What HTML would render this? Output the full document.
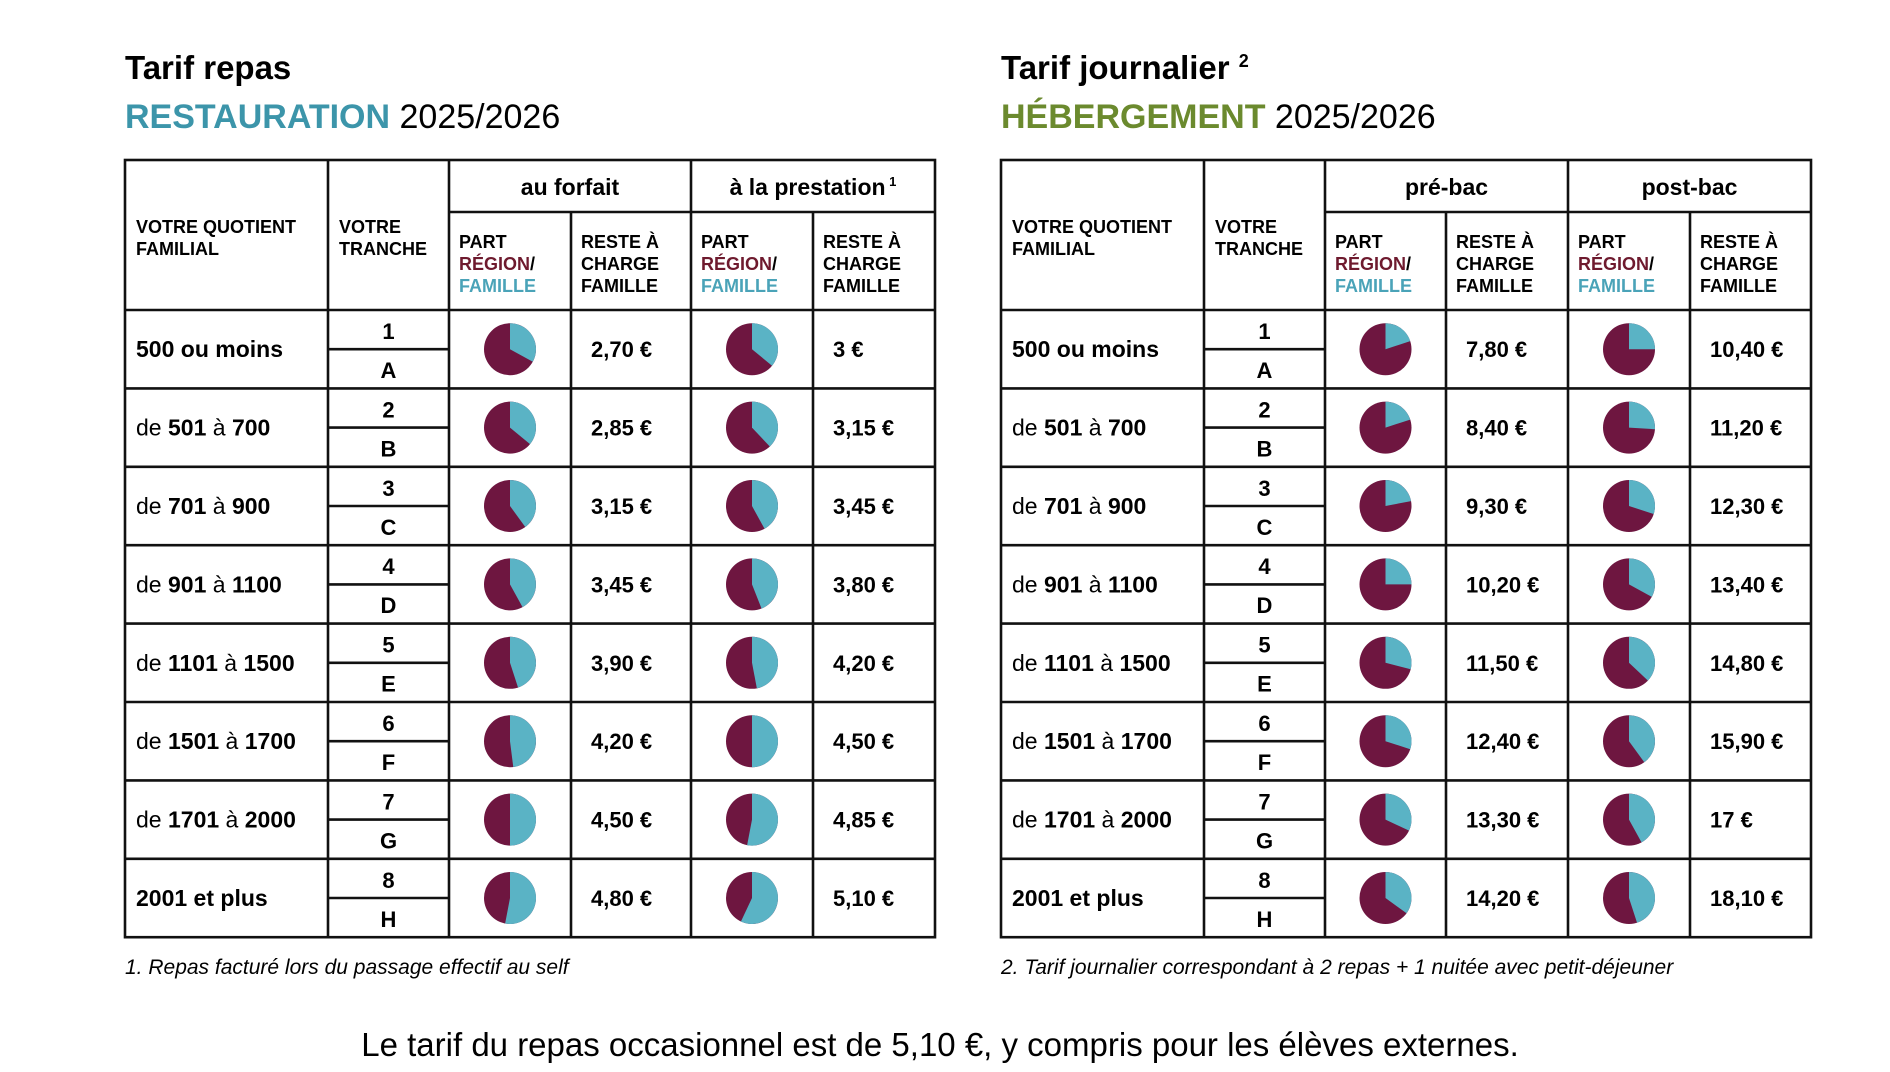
<!DOCTYPE html>
<html><head><meta charset="utf-8">
<style>
html,body{margin:0;padding:0;background:#fff;}
svg{display:block;font-family:"Liberation Sans",sans-serif;}
</style></head>
<body>
<svg id="s" width="1890" height="1072" viewBox="0 0 1890 1072" xmlns="http://www.w3.org/2000/svg">
<text x="125" y="79" font-size="33" font-weight="bold" fill="#000">Tarif repas</text>
<text x="125" y="128" font-size="34" font-weight="bold" fill="#3c95aa">RESTAURATION <tspan fill="#000" font-weight="normal">2025/2026</tspan></text>
<text x="1001" y="79" font-size="33" font-weight="bold" fill="#000">Tarif journalier <tspan font-size="18" dy="-12">2</tspan></text>
<text x="1001" y="128" font-size="34" font-weight="bold" fill="#6b8a2e">HÉBERGEMENT <tspan fill="#000" font-weight="normal">2025/2026</tspan></text>
<text x="125" y="974" font-size="21" font-style="italic" fill="#000">1. Repas facturé lors du passage effectif au self</text>
<text x="1001" y="974" font-size="21" font-style="italic" fill="#000">2. Tarif journalier correspondant à 2 repas + 1 nuitée avec petit-déjeuner</text>
<text x="940" y="1056" font-size="33" text-anchor="middle" fill="#000">Le tarif du repas occasionnel est de 5,10 €, y compris pour les élèves externes.</text>
<g id="g"></g>
</svg>
<script>
(function(){
var g=document.getElementById('g'),h='';
var rows=['500 ou moins','de 501 à 700','de 701 à 900','de 901 à 1100','de 1101 à 1500','de 1501 à 1700','de 1701 à 2000','2001 et plus'];
var T=[
 {x:[125,328,449,571,691,813,935],g1:'au forfait',g2:'à la prestation',sup:'1',
  p1:['2,70 €','2,85 €','3,15 €','3,45 €','3,90 €','4,20 €','4,50 €','4,80 €'],
  p2:['3 €','3,15 €','3,45 €','3,80 €','4,20 €','4,50 €','4,85 €','5,10 €'],
  f1:[.33,.36,.40,.42,.45,.48,.50,.53],f2:[.36,.38,.42,.44,.47,.50,.53,.57]},
 {x:[1001,1204,1325,1446,1568,1690,1811],g1:'pré-bac',g2:'post-bac',sup:'',
  p1:['7,80 €','8,40 €','9,30 €','10,20 €','11,50 €','12,40 €','13,30 €','14,20 €'],
  p2:['10,40 €','11,20 €','12,30 €','13,40 €','14,80 €','15,90 €','17 €','18,10 €'],
  f1:[.2,.2,.22,.25,.29,.3,.32,.35],f2:[.25,.26,.3,.33,.37,.4,.42,.45]}];
var T0=160,hm=212,hb=310,rh=78.4,bot=hb+8*rh;
function pie(cx,cy,f){var r=26,a=f*2*Math.PI,x=cx+r*Math.sin(a),y=cy-r*Math.cos(a),l=f>.5?1:0;
 return '<circle cx="'+cx+'" cy="'+cy+'" r="'+r+'" fill="#6e1640"/><path d="M'+cx+' '+cy+' L'+cx+' '+(cy-r)+' A'+r+' '+r+' 0 '+l+' 1 '+x.toFixed(2)+' '+y.toFixed(2)+'Z" fill="#5ab3c5"/>';}
T.forEach(function(t){var x=t.x,L='stroke="#111" stroke-width="2.6"';
 h+='<rect x="'+x[0]+'" y="'+T0+'" width="'+(x[6]-x[0])+'" height="'+(bot-T0)+'" fill="none" '+L+'/>';
 for(var i=1;i<6;i++){var y0=(i==3||i==5)?hm:T0;
  h+='<line x1="'+x[i]+'" y1="'+y0+'" x2="'+x[i]+'" y2="'+bot+'" '+L+'/>';}
 h+='<line x1="'+x[2]+'" y1="'+hm+'" x2="'+x[6]+'" y2="'+hm+'" '+L+'/>';
 for(var r=0;r<8;r++){var y=hb+r*rh;h+='<line x1="'+x[0]+'" y1="'+y+'" x2="'+x[6]+'" y2="'+y+'" '+L+'/>';
  h+='<line x1="'+x[1]+'" y1="'+(y+rh/2)+'" x2="'+x[2]+'" y2="'+(y+rh/2)+'" '+L+'/>';}
 var fs='font-size="18" font-weight="bold"';
 h+='<text x="'+(x[2]+x[4])/2+'" y="195" font-size="23" font-weight="bold" text-anchor="middle">'+t.g1+'</text>';
 h+='<text x="'+(x[4]+x[6])/2+'" y="195" font-size="23" font-weight="bold" text-anchor="middle">'+t.g2+(t.sup?'<tspan font-size="13" dy="-9"> '+t.sup+'</tspan>':'')+'</text>';
 h+='<text x="'+(x[0]+11)+'" y="233" '+fs+'>VOTRE QUOTIENT</text><text x="'+(x[0]+11)+'" y="255" '+fs+'>FAMILIAL</text>';
 h+='<text x="'+(x[1]+11)+'" y="233" '+fs+'>VOTRE</text><text x="'+(x[1]+11)+'" y="255" '+fs+'>TRANCHE</text>';
 [x[2],x[4]].forEach(function(c){h+='<text x="'+(c+10)+'" y="248" '+fs+'>PART</text><text x="'+(c+10)+'" y="270" '+fs+'><tspan fill="#6e1a2e">RÉGION</tspan>/</text><text x="'+(c+10)+'" y="292" '+fs+' fill="#4aa3b8">FAMILLE</text>';});
 [x[3],x[5]].forEach(function(c){h+='<text x="'+(c+10)+'" y="248" '+fs+'>RESTE À</text><text x="'+(c+10)+'" y="270" '+fs+'>CHARGE</text><text x="'+(c+10)+'" y="292" '+fs+'>FAMILLE</text>';});
 for(var r=0;r<8;r++){var y=hb+r*rh,cy=y+rh/2;
  h+='<text x="'+(x[0]+11)+'" y="'+(cy+8)+'" font-size="23" font-weight="'+(r==0||r==7?'bold':'normal')+'">'+(r==0||r==7?rows[r]:rows[r].replace(/(\d+)/g,'<tspan font-weight="bold">$1</tspan>'))+'</text>';
  h+='<text x="'+(x[1]+x[2])/2+'" y="'+(y+29)+'" font-size="22" font-weight="bold" text-anchor="middle">'+(r+1)+'</text>';
  h+='<text x="'+(x[1]+x[2])/2+'" y="'+(y+68)+'" font-size="22" font-weight="bold" text-anchor="middle">'+'ABCDEFGH'[r]+'</text>';
  h+=pie((x[2]+x[3])/2,cy,t.f1[r])+pie((x[4]+x[5])/2,cy,t.f2[r]);
  h+='<text x="'+(x[3]+20)+'" y="'+(cy+8)+'" font-size="22" font-weight="bold">'+t.p1[r]+'</text>';
  h+='<text x="'+(x[5]+20)+'" y="'+(cy+8)+'" font-size="22" font-weight="bold">'+t.p2[r]+'</text>';}
});
g.innerHTML=h;
})();
</script>
</body></html>
